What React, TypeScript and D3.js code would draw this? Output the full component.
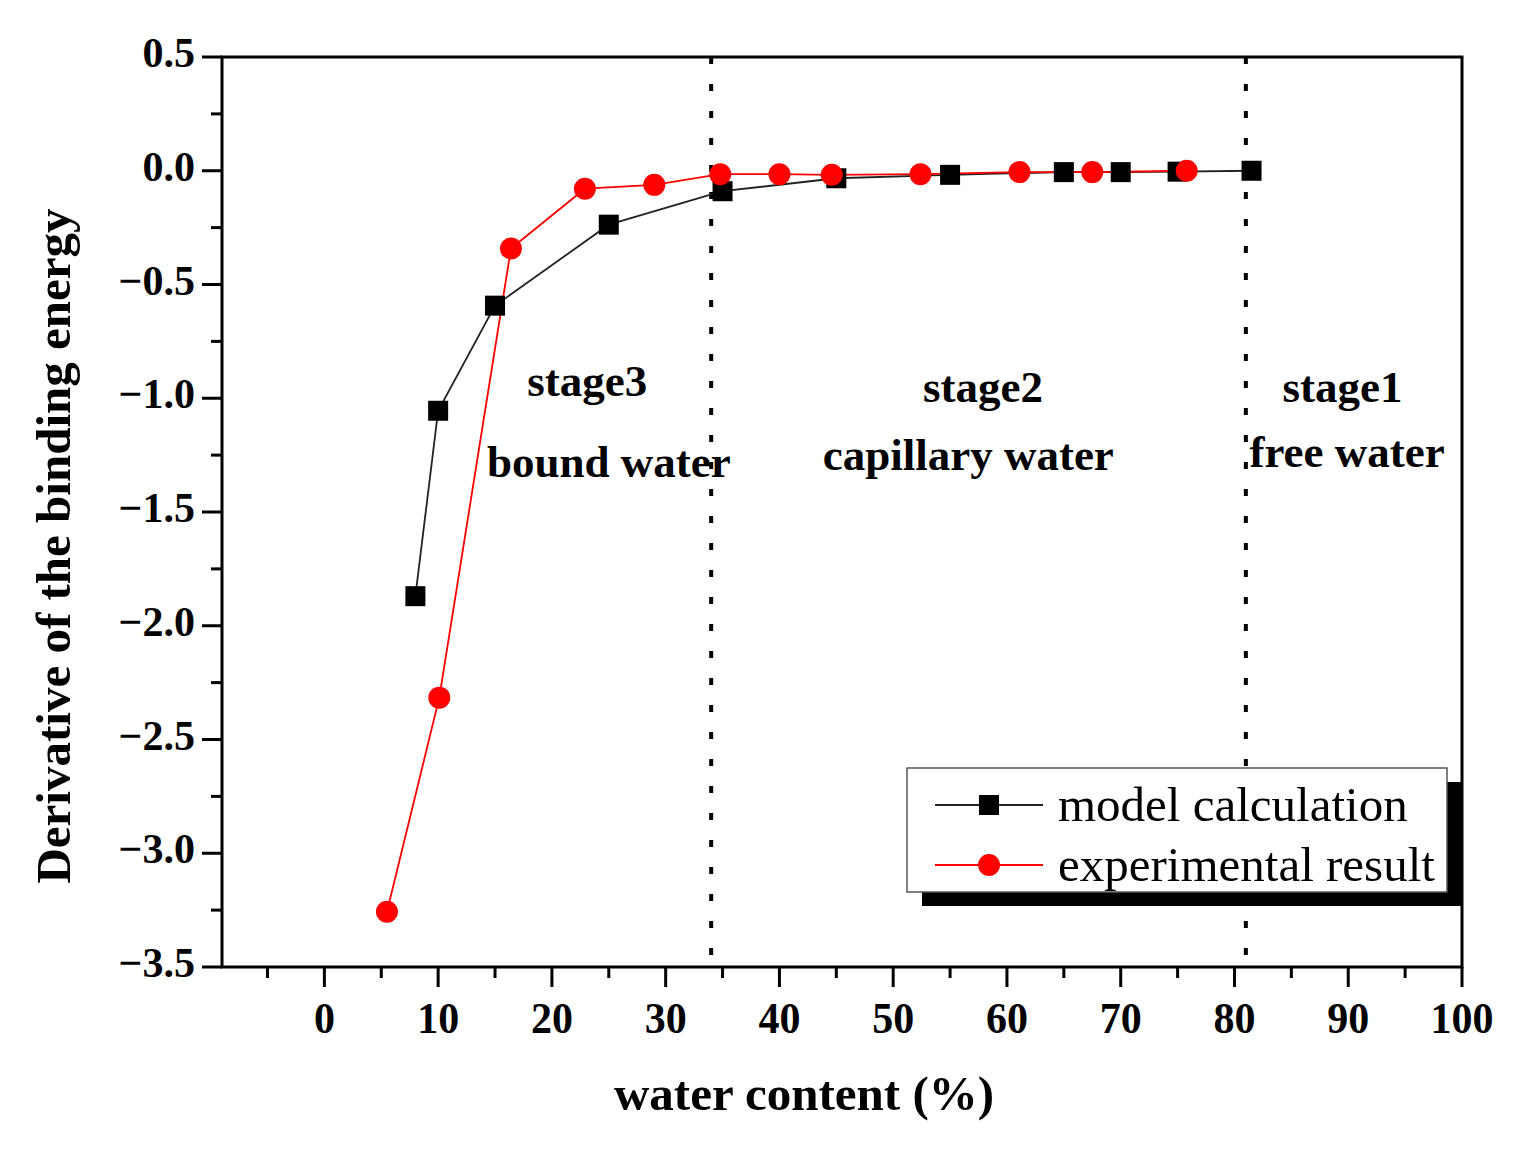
import React from 'react';
import * as d3 from 'd3';

// model calculation (black squares)
const modelX = [8, 10, 15, 25, 35, 45, 55, 65, 70, 75, 81.5];
const modelY = [-1.87, -1.055, -0.593, -0.237, -0.09, -0.033, -0.018, -0.006, -0.006, -0.004, 0.0];
// experimental result (red circles)
const expX = [5.5, 10.1, 16.4, 22.9, 29.0, 34.8, 40.0, 44.6, 52.4, 61.1, 67.5, 75.8];
const expY = [-3.257, -2.316, -0.342, -0.079, -0.062, -0.015, -0.015, -0.018, -0.015, -0.006, -0.006, 0.0];

const xTicks = [0, 10, 20, 30, 40, 50, 60, 70, 80, 90, 100];
const yTicks = [0.5, 0.0, -0.5, -1.0, -1.5, -2.0, -2.5, -3.0, -3.5];
const stageLines = [34, 81];
const stages = [
  { title: 'stage3', sub: 'bound water', x: 23.1, subX: 25.0 },
  { title: 'stage2', sub: 'capillary water', x: 57.9, subX: 56.6 },
  { title: 'stage1', sub: 'free water', x: 89.5, subX: 89.9 },
];
const legendItems = ['model calculation', 'experimental result'];

const W = 1522;
const H = 1149;
const m = { left: 222, right: 1462, top: 57, bottom: 967 };
const serif = '"Liberation Serif", "Times New Roman", serif';

const App: React.FC = () => {
  const x = d3.scaleLinear().domain([-9, 100]).range([m.left, m.right]);
  const y = d3.scaleLinear().domain([-3.5, 0.5]).range([m.bottom, m.top]);
  const line = d3.line<[number, number]>().x(d => x(d[0])).y(d => y(d[1]));
  const modelPts = modelX.map((v, i) => [v, modelY[i]] as [number, number]);
  const expPts = expX.map((v, i) => [v, expY[i]] as [number, number]);
  const xMinor = d3.range(-5, 100, 10);
  const yMinor = d3.range(0.25, -3.5, -0.5);
  const fmtY = (v: number) => (v < 0 ? '\u2212' : '') + Math.abs(v).toFixed(1);

  const lg = { x: 907, y: 768, w: 540, h: 124 };

  return (
    <svg width={W} height={H} style={{ position: 'absolute', left: 0, top: 0, background: '#fff' }} fontFamily={serif}>
      <rect x={0} y={0} width={W} height={H} fill="#fff" />
      {/* dotted stage boundaries */}
      {stageLines.map(v => (
        <line key={v} x1={x(v)} x2={x(v)} y1={m.top} y2={m.bottom} stroke="#000" strokeWidth={4} strokeDasharray="7,20" />
      ))}
      {/* data lines */}
      <path d={line(modelPts) || ''} fill="none" stroke="#222" strokeWidth={1.8} />
      <path d={line(expPts) || ''} fill="none" stroke="#ff0000" strokeWidth={1.8} />
      {modelPts.map((p, i) => (
        <rect key={'m' + i} x={x(p[0]) - 10} y={y(p[1]) - 10} width={20} height={20} fill="#000" />
      ))}
      {expPts.map((p, i) => (
        <circle key={'e' + i} cx={x(p[0])} cy={y(p[1])} r={11} fill="#ff0000" />
      ))}
      {/* frame */}
      <rect x={m.left} y={m.top} width={m.right - m.left} height={m.bottom - m.top} fill="none" stroke="#000" strokeWidth={3} />
      {/* y axis ticks */}
      {yTicks.map(v => (
        <g key={'y' + v}>
          <line x1={m.left - 20} x2={m.left} y1={y(v)} y2={y(v)} stroke="#000" strokeWidth={3} />
          <text x={195} y={y(v) + 10} textAnchor="end" fontSize={42} fontWeight="bold">{fmtY(v)}</text>
        </g>
      ))}
      {yMinor.map(v => (
        <line key={'ym' + v} x1={m.left - 11} x2={m.left} y1={y(v)} y2={y(v)} stroke="#000" strokeWidth={3} />
      ))}
      {/* x axis ticks */}
      {xTicks.map(v => (
        <g key={'x' + v}>
          <line x1={x(v)} x2={x(v)} y1={m.bottom} y2={m.bottom + 20} stroke="#000" strokeWidth={3} />
          <text transform={`translate(${x(v)},1033) scale(1,1.06)`} textAnchor="middle" fontSize={42} fontWeight="bold">{v}</text>
        </g>
      ))}
      {xMinor.map(v => (
        <line key={'xm' + v} x1={x(v)} x2={x(v)} y1={m.bottom} y2={m.bottom + 11} stroke="#000" strokeWidth={3} />
      ))}
      {/* axis titles */}
      <text x={804} y={1110} textAnchor="middle" fontSize={49} fontWeight="bold">water content (%)</text>
      <text transform={`translate(70,546) rotate(-90)`} textAnchor="middle" fontSize={49} fontWeight="bold">
        Derivative of the binding energy
      </text>
      {/* stage labels */}
      {stages.map((s, i) => (
        <g key={s.title}>
          <text x={x(s.x)} y={i === 0 ? 396 : 402} textAnchor="middle" fontSize={45} fontWeight="bold">{s.title}</text>
          <text x={x(s.subX)} y={i === 0 ? 477 : i === 1 ? 470 : 467} textAnchor="middle" fontSize={45} fontWeight="bold">{s.sub}</text>
        </g>
      ))}
      {/* legend */}
      <rect x={lg.x + 15} y={lg.y + 14} width={lg.w} height={lg.h} fill="#000" />
      <rect x={lg.x} y={lg.y} width={lg.w} height={lg.h} fill="#fff" stroke="#555" strokeWidth={1.5} />
      {legendItems.map((t, i) => {
        const ly = lg.y + 37 + i * 60;
        return (
          <g key={t}>
            <line x1={935} x2={1043} y1={ly} y2={ly} stroke={i === 0 ? '#222' : '#ff0000'} strokeWidth={1.8} />
            {i === 0 ? (
              <rect x={979} y={ly - 10} width={20} height={20} fill="#000" />
            ) : (
              <circle cx={989} cy={ly} r={11} fill="#ff0000" />
            )}
            <text x={1058} y={ly + 16} fontSize={49}>{t}</text>
          </g>
        );
      })}
    </svg>
  );
};

export default App;
